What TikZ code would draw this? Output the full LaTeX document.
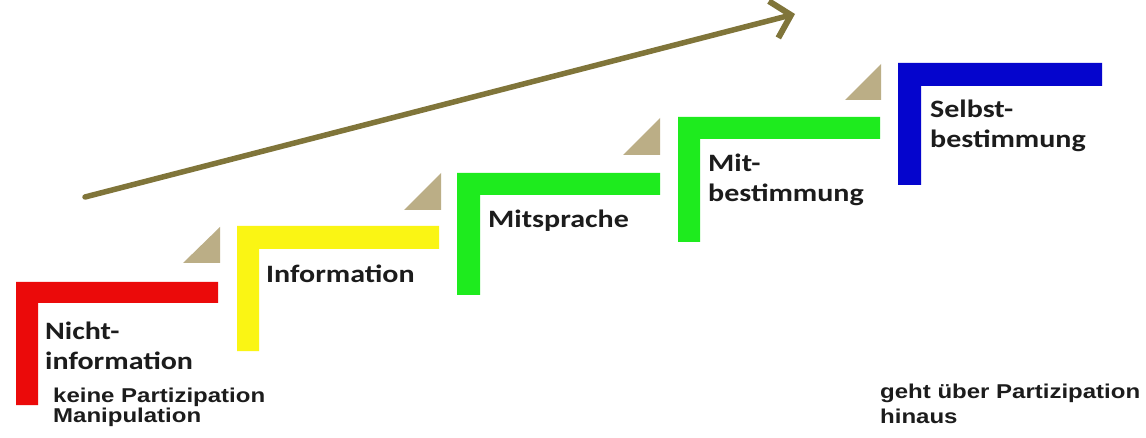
\documentclass[tikz,border=0pt]{standalone}
\usepackage{fontspec}
\setmainfont{Carlito}
\newfontfamily\smallfont{Liberation Sans}
\usetikzlibrary{arrows.meta}
\definecolor{txt}{RGB}{28,28,28}
\definecolor{cred}{RGB}{235,10,10}
\definecolor{cyellow}{RGB}{250,245,20}
\definecolor{cgreen}{RGB}{30,235,30}
\definecolor{cblue}{RGB}{5,5,205}
\definecolor{ctan}{RGB}{187,174,134}
\definecolor{colive}{RGB}{128,117,58}
\newcommand{\biglbl}[1]{\scalebox{1.2}[1]{\fontsize{25}{29.5}\selectfont\bfseries\begin{tabular}[t]{@{}l@{}}#1\end{tabular}}}
\newcommand{\smlbl}[2]{\scalebox{1.2}[1]{\smallfont\fontsize{20}{#2}\selectfont\bfseries\begin{tabular}[t]{@{}l@{}}#1\end{tabular}}}
\begin{document}
\begin{tikzpicture}[x=1pt,y=-1pt,
  lbl/.style={anchor=base west, inner sep=0pt, text=txt},
  tri/.style={fill=ctan, draw=none}]
\fill[white] (0,0) rectangle (1146,438);
\useasboundingbox (0,0) rectangle (1146,438);
% steps (L shapes)
\fill[cred]    (16,405) -- (16,282) -- (218,282) -- (218,303) -- (38,303) -- (38,405) -- cycle;
\fill[cyellow] (237,351) -- (237,226) -- (439,226) -- (439,249) -- (259,249) -- (259,351) -- cycle;
\fill[cgreen]  (457,295) -- (457,173) -- (660,173) -- (660,195) -- (480,195) -- (480,295) -- cycle;
\fill[cgreen]  (678,242) -- (678,117) -- (880,117) -- (880,139) -- (700,139) -- (700,242) -- cycle;
\fill[cblue]   (898,185) -- (898,63) -- (1102,63) -- (1102,86) -- (921,86) -- (921,185) -- cycle;
% triangles
\fill[tri] (183,263) -- (220,227) -- (220,263) -- cycle;
\fill[tri] (404,210) -- (441,173) -- (441,210) -- cycle;
\fill[tri] (623,155) -- (660,118) -- (660,155) -- cycle;
\fill[tri] (845,100) -- (881,64) -- (881,100) -- cycle;
% arrow
\coordinate (astart) at (85,197);
\coordinate (aend) at (795,14);
\draw[colive, line width=5.5pt, line cap=round,
  -{Straight Barb[length=18pt,width=38pt,line width=6pt]}] (astart) -- (aend);
% labels
\node[lbl] (l1) at (45,340) {\biglbl{Nicht-\\information}};
\node[lbl] (l1b) at (53,402) {\smlbl{keine Partizipation\\Manipulation}{19}};
\node[lbl] (l2) at (266,283) {\biglbl{Information}};
\node[lbl] (l3) at (488,228) {\biglbl{Mitsprache}};
\node[lbl] (l4) at (708,172) {\biglbl{Mit-\\bestimmung}};
\node[lbl] (l5) at (930,118) {\biglbl{Selbst-\\bestimmung}};
\node[lbl] (l6) at (880,398) {\smlbl{geht über Partizipation\\hinaus}{25}};
\end{tikzpicture}
\end{document}
